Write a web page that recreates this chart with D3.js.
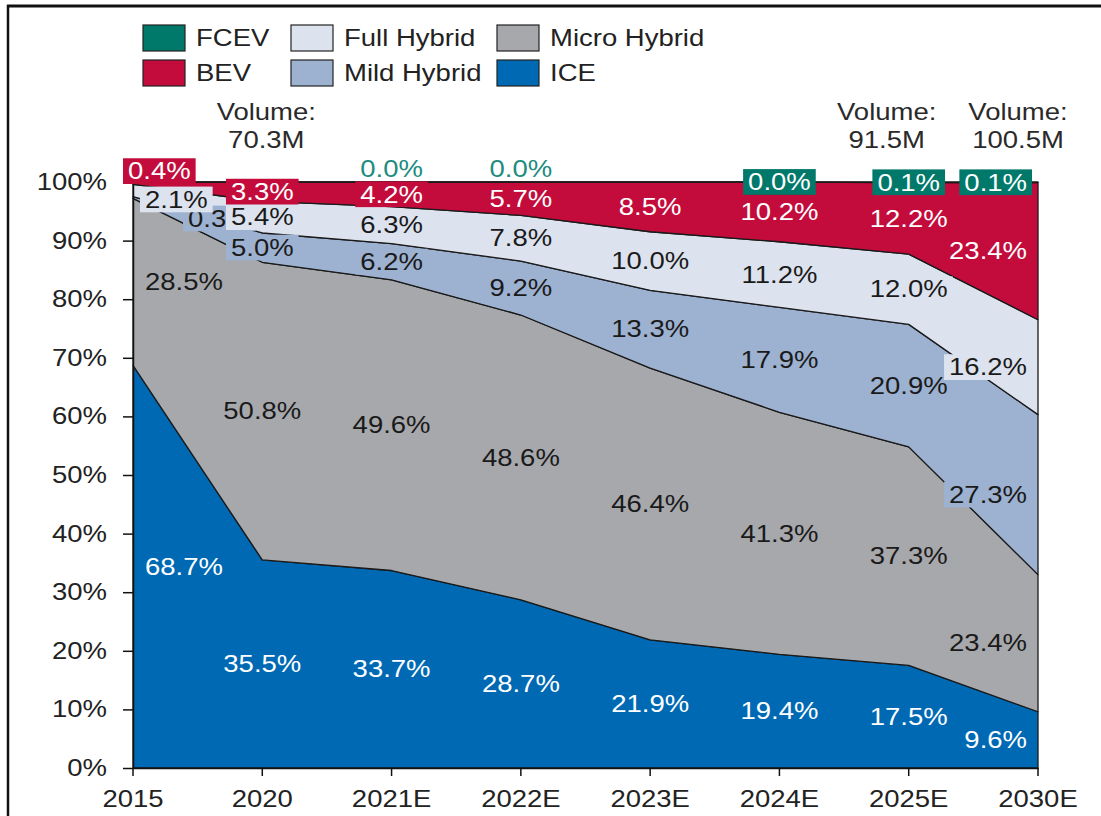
<!DOCTYPE html>
<html>
<head>
<meta charset="utf-8">
<script src="https://cdn.jsdelivr.net/npm/d3@7"></script>
<style>
  body { margin: 0; background: #fff; }
  svg { display: block; font-family: "Liberation Sans", Arial, sans-serif; }
</style>
</head>
<body>
<svg id="chart" width="1101" height="816"></svg>
<script>
// powertrain mix, share of volume per year
const categories = ["2015", "2020", "2021E", "2022E", "2023E", "2024E", "2025E", "2030E"];
const ice         = [68.7, 35.5, 33.7, 28.7, 21.9, 19.4, 17.5, 9.6];
const microHybrid = [28.5, 50.8, 49.6, 48.6, 46.4, 41.3, 37.3, 23.4];
const mildHybrid  = [0.3, 5.0, 6.2, 9.2, 13.3, 17.9, 20.9, 27.3];
const fullHybrid  = [2.1, 5.4, 6.3, 7.8, 10.0, 11.2, 12.0, 16.2];
const bev         = [0.4, 3.3, 4.2, 5.7, 8.5, 10.2, 12.2, 23.4];
const fcev        = [null, null, 0.0, 0.0, null, 0.0, 0.1, 0.1];   // null = no label

const volumeCats = ["2020", "2025E", "2030E"];
const volumes    = [70.3, 91.5, 100.5];

// series, bottom to top
const series = [
  {name: "ICE",          values: ice,         color: "#0069b4", text: "#fff"},
  {name: "Micro Hybrid", values: microHybrid, color: "#a7a8ac", text: "#1a1a1a"},
  {name: "Mild Hybrid",  values: mildHybrid,  color: "#9db1d1", text: "#1a1a1a"},
  {name: "Full Hybrid",  values: fullHybrid,  color: "#dde3ee", text: "#1a1a1a"},
  {name: "BEV",          values: bev,         color: "#c30c3b", text: "#fff"},
  {name: "FCEV",         values: fcev,        color: "#00786a", text: "#fff"}
];
const legendOrder = ["FCEV", "Full Hybrid", "Micro Hybrid", "BEV", "Mild Hybrid", "ICE"];

// label tweaks where the chart moves them off the band centre
const nudge = {
  "BEV|2015": [-17, -12],
  "Full Hybrid|2015": [0, 9],
  "Mild Hybrid|2015": [43, 21],
  "FCEV|2021E": [0, -13],
  "FCEV|2022E": [0, -13]
};
const plainLabels = ["FCEV|2021E", "FCEV|2022E"];
const volumeDx = [4, -22, -20];

const SX = 1.17;          // text in the source is stretched sideways
const FS = "23.5px";

const svg = d3.select("#chart");

// frame
svg.append("line").attr("x1", 7).attr("x2", 1101).attr("y1", 6).attr("y2", 6)
  .attr("stroke", "#111").attr("stroke-width", 3);
svg.append("line").attr("x1", 8).attr("x2", 8).attr("y1", 5).attr("y2", 816)
  .attr("stroke", "#111").attr("stroke-width", 2.5);

const x = d3.scalePoint().domain(categories).range([133, 1038]);
const y = d3.scaleLinear().domain([0, 1]).range([768, 182]);

const rows = categories.map((c, i) => {
  const r = {cat: c};
  series.forEach(s => r[s.name] = s.values[i] ?? 0);
  return r;
});

const stacked = d3.stack()
  .keys(series.map(s => s.name))
  .offset(d3.stackOffsetExpand)(rows);

const area = d3.area()
  .x(d => x(d.data.cat))
  .y0(d => y(d[0]))
  .y1(d => y(d[1]));

svg.append("g").selectAll("path")
  .data(stacked)
  .join("path")
  .attr("d", area)
  .attr("fill", (d, i) => series[i].color)
  .attr("stroke", "#1a1a1a")
  .attr("stroke-width", 1.3)
  .attr("stroke-linejoin", "round");

// axes
const yAxis = svg.append("g")
  .attr("transform", "translate(133,0)")
  .call(d3.axisLeft(y).tickValues(d3.range(0, 11).map(v => v / 10))
    .tickFormat(d3.format(".0%")).tickSize(10).tickSizeOuter(0));
yAxis.selectAll("text")
  .attr("x", -26 / SX)
  .attr("transform", `scale(${SX},1)`)
  .attr("fill", "#222").style("font-size", FS);

const xAxis = svg.append("g")
  .attr("transform", "translate(0,768)")
  .call(d3.axisBottom(x).tickSize(8).tickSizeOuter(0));
xAxis.selectAll("text")
  .attr("y", 22)
  .attr("transform", `scale(${SX},1)`)
  .attr("x", 0)
  .attr("fill", "#222").style("font-size", FS);
xAxis.selectAll(".tick").attr("transform", d => `translate(${x(d)},0)`);
xAxis.selectAll(".tick text").attr("transform", `scale(${SX},1)`);
[yAxis, xAxis].forEach(a => {
  a.attr("font-family", null);
  a.selectAll("path, line").attr("stroke", "#111").attr("stroke-width", 1.5);
});

// labels
function label(parent, px, py, txt, anchor, color, box) {
  const g = parent.append("g").attr("transform", `translate(${px},${py}) scale(${SX},1)`);
  const t = g.append("text")
    .attr("text-anchor", anchor)
    .attr("dy", "0.35em")
    .attr("fill", color)
    .style("font-size", FS)
    .text(txt);
  if (box) {
    const b = t.node().getBBox();
    g.insert("rect", "text")
      .attr("x", b.x - 5 / SX).attr("y", b.y)
      .attr("width", b.width + 10 / SX).attr("height", b.height)
      .attr("fill", box);
  }
}

const labels = svg.append("g");
categories.forEach((c, ci) => {
  series.forEach((s, si) => {
    const v = s.values[ci];
    if (v == null) return;
    const key = s.name + "|" + c;
    const seg = stacked[si][ci];
    let px = x(c), anchor = "middle";
    if (ci === 0) { px += 12; anchor = "start"; }
    if (ci === categories.length - 1) { px -= 11; anchor = "end"; }
    let py = y((seg[0] + seg[1]) / 2);
    const [dx, dy] = nudge[key] || [0, 0];
    const plain = plainLabels.includes(key);
    label(labels, px + dx, py + dy, v.toFixed(1) + "%", anchor,
      plain ? "#1c8c80" : s.text, plain ? null : s.color);
  });
});

// volume notes
volumeCats.forEach((c, i) => {
  const g = svg.append("g")
    .attr("transform", `translate(${x(c) + volumeDx[i]},0) scale(${SX},1)`)
    .attr("text-anchor", "middle").attr("fill", "#2a2a2a").style("font-size", FS);
  g.append("text").attr("y", 120).text("Volume:");
  g.append("text").attr("y", 148).text(volumes[i].toFixed(1) + "M");
});

// legend
const legend = svg.append("g");
legendOrder.forEach((name, i) => {
  const s = series.find(d => d.name === name);
  const col = i % 3, row = Math.floor(i / 3);
  const lx = [143, 291, 497][col], ly = 25 + row * 35;
  legend.append("rect")
    .attr("x", lx).attr("y", ly).attr("width", 42).attr("height", 26)
    .attr("fill", s.color).attr("stroke", "#222").attr("stroke-width", 1.2);
  legend.append("text")
    .attr("transform", `translate(${lx + 53},${ly + 13}) scale(${SX},1)`)
    .attr("dy", "0.35em").attr("fill", "#222").style("font-size", FS)
    .text(name);
});
</script>
</body>
</html>
